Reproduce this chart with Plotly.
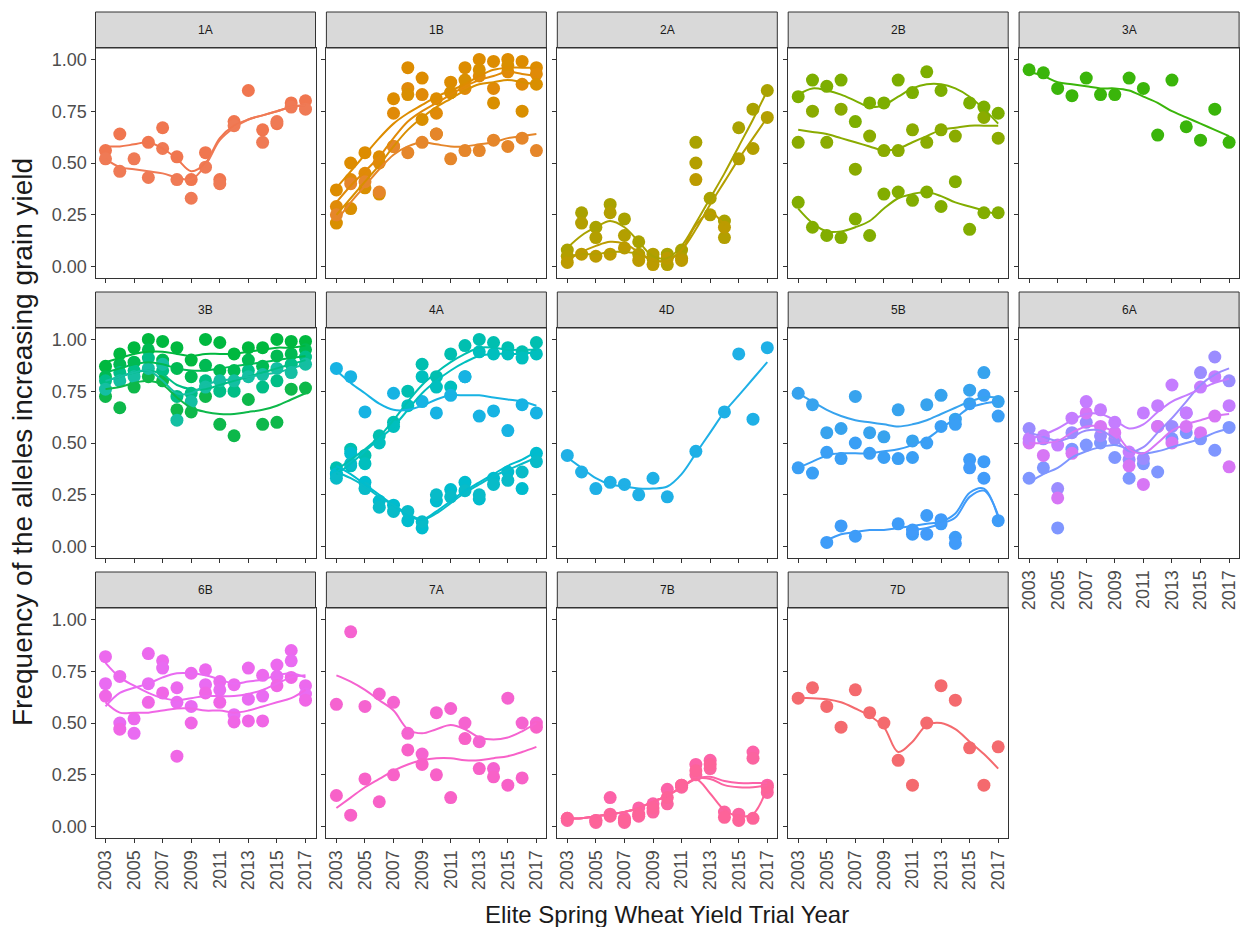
import plotly.graph_objects as go

YEARS = list(range(2003, 2018))
FACETS = ["1A", "1B", "2A", "2B", "3A", "3B", "4A", "4D", "5B", "6A", "6B", "7A", "7B", "7D"]
X_TICKS = [2003, 2005, 2007, 2009, 2011, 2013, 2015, 2017]
Y_TICKS = [0.0, 0.25, 0.5, 0.75, 1.0]
Y_TICK_LABELS = ["0.00", "0.25", "0.50", "0.75", "1.00"]
X_TITLE = "Elite Spring Wheat Yield Trial Year"
Y_TITLE = "Frequency of the alleles increasing grain yield"

# ---- points (p*) and smoothed trend (s*), one value per year 2003..2017 ----
p1A_a = [0.56, 0.64, None, 0.60, 0.67, 0.53, 0.42, 0.55, 0.42, 0.70, 0.85, 0.66, 0.69, 0.79, 0.80]
p1A_b = [0.52, 0.46, 0.52, 0.43, 0.57, 0.42, 0.33, 0.48, 0.40, 0.68, None, 0.60, 0.70, 0.77, 0.76]
s1A_a = [0.58, 0.58, 0.59, 0.60, 0.57, 0.52, 0.46, 0.50, 0.62, 0.68, 0.71, 0.73, 0.75, 0.77, 0.78]
s1A_b = [0.52, 0.48, 0.47, 0.46, 0.45, 0.43, 0.42, 0.49, 0.61, 0.67, 0.71, 0.73, 0.75, 0.77, 0.78]

p1B_1 = [0.37, 0.50, 0.55, 0.53, 0.81, 0.96, 0.91, 0.81, 0.89, 0.96, 1.00, 0.99, 1.00, 0.99, 0.96]
p1B_2 = [0.29, 0.42, 0.45, 0.50, 0.74, 0.86, 0.83, 0.74, 0.84, 0.86, 0.92, 0.86, 0.94, 0.88, 0.93]
p1B_3 = [0.21, 0.28, 0.38, 0.35, 0.58, 0.83, 0.71, 0.64, 0.84, 0.90, 0.95, 0.79, 0.97, 0.75, 0.88]
p1B_4 = [0.25, 0.40, 0.41, 0.36, 0.58, 0.55, 0.60, 0.64, 0.52, 0.56, 0.56, 0.61, 0.58, 0.62, 0.56]
s1B_1 = [0.38, 0.46, 0.54, 0.62, 0.69, 0.74, 0.78, 0.82, 0.85, 0.88, 0.92, 0.95, 0.96, 0.96, 0.96]
s1B_2 = [0.31, 0.39, 0.46, 0.53, 0.62, 0.70, 0.75, 0.79, 0.83, 0.87, 0.90, 0.92, 0.94, 0.93, 0.92]
s1B_3 = [0.25, 0.33, 0.41, 0.49, 0.58, 0.66, 0.72, 0.77, 0.81, 0.85, 0.88, 0.89, 0.90, 0.89, 0.88]
s1B_4 = [0.22, 0.31, 0.39, 0.47, 0.54, 0.58, 0.60, 0.59, 0.58, 0.58, 0.59, 0.60, 0.62, 0.63, 0.64]

p2A_1 = [0.08, 0.26, 0.19, 0.30, 0.23, 0.12, 0.04, 0.06, 0.08, 0.60, 0.33, 0.22, 0.67, 0.76, 0.85]
p2A_2 = [0.05, 0.21, 0.14, 0.26, 0.15, 0.06, 0.06, 0.01, 0.04, 0.50, 0.25, 0.14, 0.52, 0.57, 0.72]
p2A_3 = [0.02, 0.06, 0.05, 0.06, 0.09, 0.03, 0.01, 0.04, 0.03, 0.42, None, 0.19, None, None, None]
s2A_1 = [0.09, 0.15, 0.19, 0.22, 0.19, 0.12, 0.05, 0.04, 0.10, 0.21, 0.33, 0.45, 0.58, 0.71, 0.85]
s2A_2 = [0.05, 0.06, 0.06, 0.07, 0.07, 0.06, 0.03, 0.03, 0.08, 0.18, 0.30, 0.41, 0.52, 0.62, 0.72]
s2A_3 = [0.03, 0.07, 0.10, 0.12, 0.11, 0.07, 0.03, 0.03, 0.08, 0.20, 0.26, 0.20, None, None, None]

p2B_1 = [0.82, 0.90, 0.87, 0.90, 0.70, 0.79, 0.79, 0.90, 0.84, 0.94, 0.85, None, 0.79, 0.77, 0.74]
p2B_2 = [0.60, 0.75, 0.60, 0.76, 0.47, 0.63, 0.56, 0.56, 0.66, 0.60, 0.66, 0.63, None, 0.72, 0.62]
p2B_3 = [0.31, 0.19, 0.15, 0.14, 0.23, 0.15, 0.35, 0.36, 0.32, 0.36, 0.29, 0.41, 0.18, 0.26, 0.26]
s2B_1 = [0.83, 0.86, 0.85, 0.83, 0.80, 0.77, 0.78, 0.82, 0.86, 0.88, 0.88, 0.86, 0.82, 0.76, 0.69]
s2B_2 = [0.66, 0.65, 0.64, 0.62, 0.60, 0.58, 0.56, 0.57, 0.60, 0.63, 0.66, 0.67, 0.68, 0.68, 0.68]
s2B_3 = [0.28, 0.21, 0.17, 0.17, 0.19, 0.22, 0.28, 0.33, 0.35, 0.36, 0.34, 0.31, 0.29, 0.27, 0.25]

p3A = [0.95, 0.935, 0.86, 0.825, 0.91, 0.83, 0.83, 0.91, 0.86, 0.635, 0.90, 0.675, 0.61, 0.76, 0.60]
s3A = [0.94, 0.92, 0.89, 0.88, 0.87, 0.86, 0.86, 0.85, 0.82, 0.79, 0.75, 0.72, 0.69, 0.66, 0.63]

p3B_1 = [0.87, 0.93, 0.96, 1.00, 0.99, 0.96, 0.90, 1.00, 0.985, 0.93, 0.96, 0.96, 1.00, 0.99, 0.99]
p3B_2 = [0.82, 0.88, 0.89, 0.95, 0.90, 0.86, 0.82, 0.875, 0.85, 0.85, 0.90, 0.87, 0.92, 0.93, 0.95]
p3B_3 = [0.80, 0.84, 0.85, 0.91, 0.85, 0.725, 0.74, 0.80, 0.75, 0.75, 0.85, 0.77, 0.80, 0.88, 0.915]
p3B_4 = [0.725, 0.67, 0.77, 0.82, 0.80, 0.66, 0.65, 0.725, 0.59, 0.535, 0.71, 0.59, 0.60, 0.76, 0.765]
p3B_5 = [0.76, 0.80, 0.82, 0.86, 0.88, 0.61, 0.70, 0.77, 0.80, 0.80, 0.82, 0.83, 0.86, 0.84, 0.88]
s3B_1 = [0.89, 0.91, 0.93, 0.94, 0.94, 0.93, 0.92, 0.93, 0.93, 0.93, 0.94, 0.95, 0.96, 0.96, 0.97]
s3B_2 = [0.84, 0.86, 0.88, 0.89, 0.88, 0.86, 0.85, 0.85, 0.86, 0.87, 0.88, 0.89, 0.90, 0.91, 0.92]
s3B_3 = [0.80, 0.82, 0.84, 0.85, 0.83, 0.78, 0.76, 0.76, 0.78, 0.80, 0.82, 0.84, 0.86, 0.88, 0.90]
s3B_4 = [0.76, 0.77, 0.79, 0.80, 0.78, 0.72, 0.67, 0.65, 0.64, 0.64, 0.65, 0.66, 0.68, 0.71, 0.74]
s3B_5 = [0.80, 0.82, 0.84, 0.85, 0.80, 0.74, 0.74, 0.78, 0.80, 0.81, 0.82, 0.83, 0.84, 0.86, 0.88]

p4A_f = [0.86, 0.82, 0.65, None, 0.74, None, 0.70, 0.645, 0.73, 0.82, 0.63, 0.655, 0.56, 0.685, 0.645]
p4A_r1 = [0.38, 0.47, 0.44, 0.535, 0.60, 0.75, 0.88, 0.82, 0.93, 0.97, 1.00, 0.985, 0.96, 0.94, 0.985]
p4A_r2 = [0.35, 0.39, 0.40, 0.50, 0.58, 0.68, 0.82, 0.77, 0.77, 0.82, 0.94, 0.93, 0.93, 0.91, 0.93]
p4A_l1 = [0.35, 0.45, 0.31, 0.22, 0.20, 0.125, 0.09, 0.22, 0.275, 0.31, 0.23, 0.33, 0.36, 0.28, 0.45]
p4A_l2 = [0.33, 0.40, 0.28, 0.19, 0.17, 0.17, 0.12, 0.25, 0.24, 0.27, 0.25, 0.30, 0.32, 0.36, 0.41]
s4A_f = [0.85, 0.79, 0.74, 0.69, 0.66, 0.66, 0.68, 0.71, 0.73, 0.73, 0.73, 0.72, 0.71, 0.70, 0.68]
s4A_r1 = [0.37, 0.42, 0.47, 0.53, 0.61, 0.70, 0.78, 0.84, 0.89, 0.93, 0.96, 0.96, 0.95, 0.95, 0.95]
s4A_r2 = [0.35, 0.40, 0.46, 0.52, 0.58, 0.66, 0.74, 0.80, 0.85, 0.89, 0.92, 0.93, 0.93, 0.93, 0.94]
s4A_l1 = [0.39, 0.35, 0.30, 0.25, 0.20, 0.15, 0.13, 0.17, 0.22, 0.27, 0.31, 0.35, 0.39, 0.42, 0.46]
s4A_l2 = [0.36, 0.33, 0.29, 0.24, 0.20, 0.16, 0.13, 0.16, 0.21, 0.26, 0.30, 0.34, 0.37, 0.40, 0.43]

p4D = [0.44, 0.36, 0.28, 0.31, 0.30, 0.25, 0.33, 0.24, None, 0.46, None, 0.65, 0.93, 0.615, 0.96]
s4D = [0.43, 0.38, 0.33, 0.30, 0.29, 0.28, 0.28, 0.29, 0.35, 0.45, 0.55, 0.65, 0.73, 0.81, 0.89]

p5B_t = [0.74, 0.685, 0.55, 0.57, 0.725, 0.55, 0.53, 0.66, 0.51, 0.685, 0.73, 0.615, 0.755, 0.84, 0.70]
p5B_m = [0.38, 0.355, 0.455, 0.425, 0.50, 0.45, 0.43, 0.425, 0.43, 0.50, 0.58, 0.59, 0.69, 0.73, 0.63]
p5B_l1 = [None, None, 0.02, 0.10, 0.05, None, None, 0.11, 0.06, 0.15, 0.11, 0.045, 0.42, 0.41, 0.125]
p5B_l2 = [None, None, None, None, None, None, None, None, 0.08, 0.06, 0.13, 0.015, 0.38, 0.33, None]
s5B_t = [0.74, 0.70, 0.66, 0.63, 0.61, 0.60, 0.59, 0.58, 0.59, 0.61, 0.64, 0.67, 0.70, 0.72, 0.72]
s5B_m = [0.38, 0.41, 0.44, 0.45, 0.45, 0.45, 0.46, 0.47, 0.49, 0.52, 0.57, 0.62, 0.67, 0.69, 0.70]
s5B_l1 = [None, None, 0.03, 0.06, 0.07, 0.08, 0.08, 0.09, 0.10, 0.11, 0.12, 0.16, 0.26, 0.28, 0.14]
s5B_l2 = [None, None, None, None, None, None, None, None, 0.08, 0.09, 0.11, 0.14, 0.24, 0.27, 0.15]

p6A_p1 = [0.52, 0.535, 0.49, 0.62, 0.70, 0.66, 0.60, 0.456, 0.645, 0.68, 0.78, 0.645, 0.77, 0.82, 0.68]
p6A_p2 = [0.50, 0.44, 0.235, 0.45, 0.645, 0.58, 0.55, 0.39, 0.30, 0.58, 0.50, 0.58, 0.55, 0.63, 0.385]
p6A_b1 = [0.57, 0.52, 0.28, 0.55, 0.60, 0.535, 0.52, 0.42, 0.425, 0.58, 0.58, 0.645, 0.84, 0.915, 0.80]
p6A_b2 = [0.33, 0.38, 0.09, 0.47, 0.49, 0.50, 0.43, 0.33, 0.40, 0.36, 0.52, 0.55, 0.52, 0.465, 0.575]
s6A_p1 = [0.52, 0.54, 0.57, 0.61, 0.64, 0.64, 0.61, 0.57, 0.59, 0.65, 0.70, 0.73, 0.76, 0.79, 0.81]
s6A_p2 = [0.50, 0.50, 0.51, 0.55, 0.58, 0.58, 0.55, 0.47, 0.45, 0.50, 0.56, 0.59, 0.61, 0.63, 0.64]
s6A_b1 = [0.55, 0.53, 0.51, 0.53, 0.56, 0.56, 0.52, 0.46, 0.48, 0.55, 0.62, 0.70, 0.78, 0.83, 0.86]
s6A_b2 = [0.31, 0.35, 0.38, 0.43, 0.46, 0.48, 0.49, 0.47, 0.45, 0.46, 0.48, 0.50, 0.52, 0.55, 0.57]

p6B_1 = [0.82, 0.725, 0.52, 0.835, 0.80, 0.67, 0.74, 0.757, 0.70, 0.685, 0.765, 0.73, 0.78, 0.85, 0.68]
p6B_2 = [0.69, 0.50, 0.45, 0.69, 0.765, 0.60, 0.58, 0.685, 0.66, 0.54, 0.615, 0.63, 0.725, 0.80, 0.64]
p6B_3 = [0.63, 0.47, None, 0.60, 0.645, 0.34, 0.50, 0.645, 0.60, 0.505, 0.51, 0.51, 0.68, 0.72, 0.61]
s6B_1 = [0.79, 0.72, 0.68, 0.645, 0.62, 0.61, 0.62, 0.63, 0.63, 0.63, 0.64, 0.66, 0.69, 0.72, 0.73]
s6B_2 = [0.58, 0.645, 0.67, 0.69, 0.72, 0.74, 0.74, 0.73, 0.71, 0.69, 0.70, 0.71, 0.73, 0.74, 0.72]
s6B_3 = [0.60, 0.55, 0.55, 0.55, 0.56, 0.57, 0.57, 0.56, 0.56, 0.55, 0.56, 0.58, 0.60, 0.62, 0.66]

p7A_1 = [0.59, 0.94, 0.58, 0.64, 0.60, 0.45, 0.35, 0.55, 0.57, 0.50, 0.41, 0.28, 0.62, 0.50, 0.50]
p7A_2 = [0.15, 0.055, 0.23, 0.12, 0.25, 0.37, 0.30, 0.25, 0.14, 0.425, 0.28, 0.24, 0.20, 0.235, 0.48]
s7A_1 = [0.73, 0.70, 0.66, 0.61, 0.56, 0.47, 0.45, 0.47, 0.49, 0.47, 0.43, 0.42, 0.43, 0.46, 0.50]
s7A_2 = [0.09, 0.14, 0.19, 0.23, 0.27, 0.30, 0.32, 0.33, 0.33, 0.32, 0.32, 0.33, 0.34, 0.36, 0.385]

p7B_1 = [0.04, None, 0.03, 0.14, 0.04, 0.09, 0.11, 0.18, 0.20, 0.30, 0.32, None, None, 0.36, 0.20]
p7B_2 = [0.03, None, 0.02, 0.06, 0.02, 0.05, 0.07, 0.11, 0.19, 0.25, 0.28, 0.07, 0.06, 0.33, 0.165]
p7B_3 = [0.04, None, 0.03, 0.05, 0.03, 0.06, 0.09, 0.14, 0.20, 0.27, 0.30, 0.045, 0.03, 0.04, 0.19]
s7B_1 = [0.04, 0.04, 0.05, 0.06, 0.07, 0.09, 0.12, 0.15, 0.19, 0.23, 0.24, 0.22, 0.21, 0.21, 0.21]
s7B_2 = [0.04, 0.04, 0.05, 0.06, 0.07, 0.09, 0.12, 0.15, 0.19, 0.23, 0.23, 0.20, 0.19, 0.19, 0.20]
s7B_3 = [0.04, 0.04, 0.05, 0.06, 0.07, 0.09, 0.12, 0.15, 0.19, 0.23, 0.16, 0.08, 0.05, 0.06, 0.19]

p7D = [0.62, 0.67, 0.58, 0.48, 0.66, 0.55, 0.50, 0.32, 0.20, 0.50, 0.68, 0.61, 0.38, 0.20, 0.385]
s7D = [0.62, 0.62, 0.615, 0.60, 0.57, 0.535, 0.48, 0.36, 0.41, 0.49, 0.50, 0.47, 0.41, 0.35, 0.28]

# facet, points, smooth, colour
SERIES = [
    ("1A", p1A_a, s1A_a, "#F0764F"), ("1A", p1A_b, s1A_b, "#EF7A55"),
    ("1B", p1B_1, s1B_1, "#DD8C00"), ("1B", p1B_2, s1B_2, "#E08A08"),
    ("1B", p1B_3, s1B_3, "#D98F00"), ("1B", p1B_4, s1B_4, "#E5862A"),
    ("2A", p2A_1, s2A_1, "#A9A200"), ("2A", p2A_2, s2A_2, "#B39F00"), ("2A", p2A_3, s2A_3, "#BC9B00"),
    ("2B", p2B_1, s2B_1, "#7CAE00"), ("2B", p2B_2, s2B_2, "#8AAB00"), ("2B", p2B_3, s2B_3, "#82AD00"),
    ("3A", p3A, s3A, "#3AB50A"),
    ("3B", p3B_1, s3B_1, "#00B83F"), ("3B", p3B_2, s3B_2, "#00BA52"), ("3B", p3B_3, s3B_3, "#00BE86"),
    ("3B", p3B_4, s3B_4, "#0DB84A"), ("3B", p3B_5, s3B_5, "#14BFA2"),
    ("4A", p4A_r1, s4A_r1, "#00BFB0"), ("4A", p4A_r2, s4A_r2, "#00BFBE"),
    ("4A", p4A_l1, s4A_l1, "#00BCCE"), ("4A", p4A_l2, s4A_l2, "#08BBC8"), ("4A", p4A_f, s4A_f, "#17B3E3"),
    ("4D", p4D, s4D, "#1FB0E6"),
    ("5B", p5B_t, s5B_t, "#37A3EE"), ("5B", p5B_m, s5B_m, "#3A9FF5"),
    ("5B", p5B_l1, s5B_l1, "#3E9CF8"), ("5B", p5B_l2, s5B_l2, "#419BFA"),
    ("6A", p6A_b2, s6A_b2, "#7F96FF"), ("6A", p6A_b1, s6A_b1, "#9B8CFF"),
    ("6A", p6A_p2, s6A_p2, "#D776F5"), ("6A", p6A_p1, s6A_p1, "#C57DFF"),
    ("6B", p6B_1, s6B_1, "#EC69EE"), ("6B", p6B_2, s6B_2, "#E96BF2"), ("6B", p6B_3, s6B_3, "#F066E6"),
    ("7A", p7A_1, s7A_1, "#F563D0"), ("7A", p7A_2, s7A_2, "#F861C8"),
    ("7B", p7B_1, s7B_1, "#FC62A8"), ("7B", p7B_2, s7B_2, "#FB64A0"), ("7B", p7B_3, s7B_3, "#FD6399"),
    ("7D", p7D, s7D, "#F46A6E"),
]

# ---- layout geometry (pixels of the 1246x927 page) ----
W, H = 1246, 927
COL_LEFT = [95.5 + 230.9 * c for c in range(5)]
PANEL_W = 220
ROW_TOP = [48, 328, 608]
PANEL_H = 230
STRIP_H = 36
XR = [2002.3, 2017.7]
YR = [-0.055, 1.055]
FONT = "Liberation Sans, Arial, sans-serif"
TICK_FONT = dict(family=FONT, size=18, color="#4D4D4D")

fig = go.Figure()
shapes, annotations = [], []
axis_of = {}
for k, fac in enumerate(FACETS):
    r, c = divmod(k, 5)
    sfx = "" if k == 0 else str(k + 1)
    axis_of[fac] = sfx
    x0 = COL_LEFT[c]
    top = ROW_TOP[r]
    show_x = (r == 2) or (r == 1 and c == 4)
    show_y = (c == 0)
    fig.update_layout(**{
        "xaxis" + sfx: dict(domain=[x0 / W, (x0 + PANEL_W) / W], anchor="y" + sfx, range=XR,
                            tickvals=X_TICKS, ticktext=[str(v) for v in X_TICKS] if show_x else [""] * len(X_TICKS),
                            tickangle=-90, ticks="outside", ticklen=4, tickcolor="#333333", tickwidth=1,
                            showline=True, mirror=True, linecolor="#333333", linewidth=1,
                            showgrid=False, zeroline=False, tickfont=TICK_FONT, fixedrange=True),
        "yaxis" + sfx: dict(domain=[1 - (top + PANEL_H) / H, 1 - top / H], anchor="x" + sfx, range=YR,
                            tickvals=Y_TICKS, ticktext=Y_TICK_LABELS if show_y else [""] * len(Y_TICKS),
                            ticks="outside", ticklen=4, tickcolor="#333333", tickwidth=1,
                            showline=True, mirror=True, linecolor="#333333", linewidth=1,
                            showgrid=False, zeroline=False, tickfont=TICK_FONT, fixedrange=True),
    })
    shapes.append(dict(type="rect", xref="paper", yref="paper",
                       x0=x0 / W, x1=(x0 + PANEL_W) / W,
                       y0=1 - top / H, y1=1 - (top - STRIP_H) / H,
                       fillcolor="#D9D9D9", line=dict(color="#333333", width=1), layer="below"))
    annotations.append(dict(text=fac, xref="paper", yref="paper",
                            x=(x0 + PANEL_W / 2) / W, y=1 - (top - STRIP_H / 2) / H,
                            showarrow=False, xanchor="center", yanchor="middle",
                            font=dict(family=FONT, size=12, color="#1A1A1A")))

for fac, pts, smooth, col in SERIES:
    sfx = axis_of[fac]
    fig.add_trace(go.Scatter(x=YEARS, y=pts, mode="markers", xaxis="x" + sfx, yaxis="y" + sfx,
                             marker=dict(size=13, color=col, line=dict(width=0)),
                             showlegend=False, hoverinfo="skip"))
for fac, pts, smooth, col in SERIES:
    sfx = axis_of[fac]
    fig.add_trace(go.Scatter(x=YEARS, y=smooth, mode="lines", xaxis="x" + sfx, yaxis="y" + sfx,
                             line=dict(color=col, width=2, shape="spline", smoothing=1.0),
                             connectgaps=False, showlegend=False, hoverinfo="skip"))

annotations.append(dict(text=X_TITLE, xref="paper", yref="paper", x=(95.5 + 1239) / 2 / W, y=1 - 914 / H,
                        showarrow=False, xanchor="center", yanchor="middle",
                        font=dict(family=FONT, size=24, color="#1A1A1A")))
annotations.append(dict(text=Y_TITLE, xref="paper", yref="paper", x=22 / W, y=1 - 442 / H,
                        showarrow=False, xanchor="center", yanchor="middle", textangle=-90,
                        font=dict(family=FONT, size=28, color="#1A1A1A")))

fig.update_layout(width=W, height=H, margin=dict(l=0, r=0, t=0, b=0),
                  paper_bgcolor="white", plot_bgcolor="white", hovermode=False,
                  shapes=shapes, annotations=annotations, showlegend=False)

fig.write_html("out.html", config={"displayModeBar": False, "staticPlot": True},
               post_script="document.body.style.margin='0';document.body.style.overflow='hidden';")
